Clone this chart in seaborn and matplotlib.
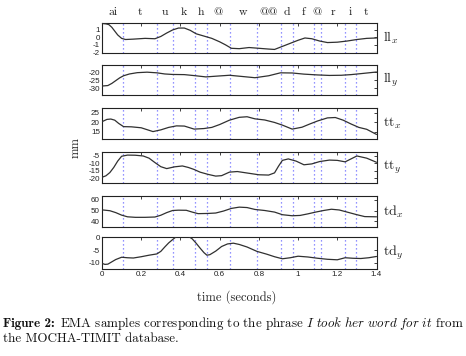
import numpy as np
import pandas as pd
import matplotlib
matplotlib.use('Agg')
import matplotlib.pyplot as plt
import seaborn as sns

# phone labels and segment boundaries (seconds)
phones = ['ai', 't', 'u', 'k', 'h', '@', 'w', '@@', 'd', 'f', '@', 'r', 'i', 't']
bounds = [0.108, 0.282, 0.363, 0.473, 0.533, 0.652, 0.788, 0.915, 0.974,
          1.079, 1.118, 1.237, 1.297]
t_end = 1.4

# traces
llx_t = [0, 0.02, 0.035, 0.05, 0.065, 0.08, 0.1, 0.12, 0.16, 0.22, 0.27, 0.3, 0.33, 0.36,
         0.39, 0.42, 0.45, 0.48, 0.52, 0.56, 0.6, 0.63, 0.66, 0.7, 0.75, 0.8, 0.85, 0.88,
         0.92, 0.96, 1.0, 1.035, 1.07, 1.11, 1.15, 1.2, 1.25, 1.3, 1.35, 1.4]
llx_v = [1.8, 1.75, 1.65, 1.3, 0.8, 0.3, -0.15, -0.3, -0.25, -0.15, -0.2, 0.1, 0.55, 0.95,
         1.2, 1.2, 0.9, 0.45, 0.15, -0.15, -0.6, -1.0, -1.45, -1.5, -1.35, -1.45, -1.55, -1.6,
         -1.2, -0.8, -0.4, -0.1, -0.2, -0.5, -0.7, -0.65, -0.5, -0.3, -0.15, -0.1]

lly_t = [0, 0.03, 0.05, 0.07, 0.09, 0.11, 0.14, 0.18, 0.23, 0.28, 0.32, 0.36, 0.42, 0.47,
         0.53, 0.6, 0.65, 0.72, 0.78, 0.85, 0.91, 0.97, 1.03, 1.1, 1.16, 1.22, 1.27, 1.32,
         1.36, 1.4]
lly_v = [-28.6, -28.3, -27, -25.3, -23.6, -22.3, -21.2, -20.4, -20.1, -20.5, -21.2, -21.5,
         -21.6, -22.2, -23, -22.4, -22, -22.8, -23.5, -22.3, -20.5, -20.6, -21.3, -21.8,
         -22.1, -22, -21.6, -21, -20.5, -20]

ttx_t = [0, 0.025, 0.045, 0.065, 0.085, 0.11, 0.15, 0.2, 0.23, 0.26, 0.3, 0.34, 0.38, 0.42,
         0.47, 0.52, 0.56, 0.6, 0.65, 0.7, 0.74, 0.78, 0.83, 0.88, 0.92, 0.97, 1.02, 1.06,
         1.1, 1.15, 1.19, 1.23, 1.27, 1.31, 1.35, 1.4]
ttx_v = [20.2, 21.4, 21.6, 21, 19.3, 17.6, 17.5, 17.0, 16.0, 15.0, 15.9, 17.2, 18.0, 17.9,
         16.3, 16.6, 17.2, 18.7, 21.0, 22.5, 22.8, 21.7, 21.1, 19.8, 18.4, 16.3, 17.3, 19.0,
         20.6, 22.2, 22.4, 21.0, 19.0, 17.2, 16.2, 13.5]

tty_t = [0, 0.02, 0.04, 0.06, 0.08, 0.1, 0.13, 0.17, 0.21, 0.24, 0.27, 0.3, 0.33, 0.37,
         0.41, 0.44, 0.47, 0.5, 0.54, 0.58, 0.61, 0.65, 0.69, 0.74, 0.8, 0.85, 0.88, 0.9,
         0.92, 0.95, 0.99, 1.03, 1.07, 1.11, 1.16, 1.2, 1.24, 1.27, 1.3, 1.35, 1.4]
tty_v = [-19.5, -18.5, -16.3, -12.8, -8.5, -5.2, -4.4, -4.5, -5.0, -6.5, -9.5, -12.3, -13.6,
         -12.4, -11.8, -12.8, -14.2, -16, -17.5, -18.7, -18.4, -16, -15.6, -16.6, -17.8, -18,
         -16.5, -12, -8, -7, -8.5, -11, -10.4, -8.8, -7.8, -8, -9, -7, -5, -6.5, -9.3]

tdx_t = [0, 0.04, 0.07, 0.1, 0.13, 0.17, 0.22, 0.27, 0.3, 0.33, 0.36, 0.39, 0.43, 0.46,
         0.49, 0.54, 0.58, 0.62, 0.66, 0.7, 0.74, 0.78, 0.83, 0.88, 0.92, 0.97, 1.01, 1.05,
         1.09, 1.13, 1.17, 1.21, 1.25, 1.3, 1.34, 1.4]
tdx_v = [50.6, 49.8, 48, 45.6, 44, 43.5, 43.5, 43.8, 45.5, 48, 50, 50.3, 50.2, 48.5, 47,
         47.2, 47.6, 49.5, 52, 53.2, 52.8, 51, 50, 48.5, 46, 45, 45.3, 46.8, 48.5, 50, 51.2,
         50.5, 48.5, 46, 44.2, 44]

tdy_t = [0, 0.015, 0.03, 0.05, 0.07, 0.1, 0.13, 0.16, 0.2, 0.24, 0.28, 0.3, 0.32, 0.34,
         0.36, 0.38, 0.4, 0.42, 0.44, 0.46, 0.48, 0.5, 0.52, 0.535, 0.55, 0.58, 0.61, 0.64,
         0.67, 0.7, 0.74, 0.79, 0.84, 0.88, 0.92, 0.96, 1.0, 1.05, 1.1, 1.15, 1.2, 1.24,
         1.28, 1.32, 1.36, 1.4]
tdy_v = [-10.2, -10.6, -10.5, -9.6, -8.7, -7.8, -8.0, -8.1, -7.6, -7.0, -6.5, -5.5, -3.8,
         -2.2, -0.9, 0.3, 0.5, 0.5, 0.4, -0.6, -2.3, -4.2, -6.0, -7.0, -6.8, -5.4, -3.6,
         -2.6, -2.3, -2.8, -3.8, -5.5, -6.6, -7.6, -8.4, -8.0, -7.4, -7.7, -8.2, -8.6,
         -8.8, -8.0, -8.2, -8.3, -8.0, -7.5]

names = [r'$\mathrm{ll}_x$', r'$\mathrm{ll}_y$', r'$\mathrm{tt}_x$',
         r'$\mathrm{tt}_y$', r'$\mathrm{td}_x$', r'$\mathrm{td}_y$']
series = [(llx_t, llx_v), (lly_t, lly_v), (ttx_t, ttx_v),
          (tty_t, tty_v), (tdx_t, tdx_v), (tdy_t, tdy_v)]
ylims = [(-2, 1.9), (-34.1, -15.7), (11.1, 27.4), (-23.4, -2.3), (34.3, 63.8), (-12.4, 0)]
yticks = [[-2, -1, 0, 1], [-30, -25, -20], [15, 20, 25],
          [-20, -15, -10, -5], [40, 50, 60], [-10, -5, 0]]
xticks = [0, 0.2, 0.4, 0.6, 0.8, 1.0, 1.2, 1.4]
xticklabels = ['0', '0.2', '0.4', '0.6', '0.8', '1', '1.2', '1.4']

sns.set_style('white')
plt.rcParams['font.family'] = ['Liberation Sans', 'DejaVu Sans']
plt.rcParams['mathtext.fontset'] = 'cm'
plt.rcParams['axes.unicode_minus'] = False

W, H = 466, 356
fig = plt.figure(figsize=(W / 100, H / 100), dpi=100)

# panel extents in pixels (top, bottom)
tops = [22.7, 65, 108, 152, 196, 237.3]
bots = [52.5, 95, 139, 183, 227, 269]
left, width = 102, 274.5

serif = ['cmr10', 'DejaVu Serif']
axes = []
for i, (tt, vv) in enumerate(series):
    ax = fig.add_axes([left / W, 1 - bots[i] / H, width / W, (bots[i] - tops[i]) / H])
    for b in bounds:
        ax.axvline(b, ls=(0, (1, 2.2)), color='#6f6fff', lw=0.9, zorder=1)
    df = pd.DataFrame({'t': tt, 'v': vv})
    sns.lineplot(data=df, x='t', y='v', ax=ax, color='#303030', lw=0.9,
                 estimator=None, sort=True, zorder=3)
    ax.set_xlim(0, t_end)
    ax.set_ylim(*ylims[i])
    ax.set_yticks(yticks[i])
    ax.set_xticks(xticks)
    ax.set_xlabel('')
    ax.set_ylabel('')
    ax.tick_params(direction='in', length=2.5, width=0.6, top=True, right=True,
                   labelsize=5.8, pad=1.5, colors='#222222')
    if i < 5:
        ax.tick_params(labelbottom=False)
    else:
        ax.set_xticklabels(xticklabels)
    for s in ax.spines.values():
        s.set_color('#222222')
        s.set_linewidth(0.8)
    ax.text(1.025, 0.5, names[i], transform=ax.transAxes, ha='left', va='center',
            fontsize=10, color='#222222')
    axes.append(ax)

# phone labels centred in their segments
edges = [0] + bounds + [t_end]
centers = [(a + b) / 2 for a, b in zip(edges[:-1], edges[1:])]
for c, p in zip(centers, phones):
    axes[0].text(c, 1.36, p, transform=axes[0].get_xaxis_transform(), ha='center',
                 va='center', fontsize=8.5, family=serif, color='#222222')

fig.text(237 / W, 1 - 297 / H, 'time (seconds)', ha='center', va='center',
         fontsize=9, family=serif, color='#222222')
fig.text(76 / W, 1 - 148 / H, 'mm', ha='center', va='center', rotation=90,
         fontsize=9, family=serif, color='#222222')

# caption: bold lead-in, then the rest placed right after it
cap_fs = 9.4
renderer = fig.canvas.get_renderer()
lead = fig.text(3 / W, 1 - 327 / H, 'Figure 2:', ha='left', va='baseline',
                fontsize=cap_fs, family=['cmb10', 'DejaVu Serif'], color='#111111')
bb = lead.get_window_extent(renderer)
x_next = (bb.x1 + 5) / W
fig.text(x_next, 1 - 327 / H,
         r'EMA samples corresponding to the phrase $\mathit{I\ took\ her\ word\ for\ it}$ from',
         ha='left', va='baseline', fontsize=cap_fs, family=serif, color='#111111')
fig.text(3 / W, 1 - 342 / H, 'the MOCHA-TIMIT database.', ha='left', va='baseline',
         fontsize=cap_fs, family=serif, color='#111111')

fig.savefig('out.png', dpi=100)
